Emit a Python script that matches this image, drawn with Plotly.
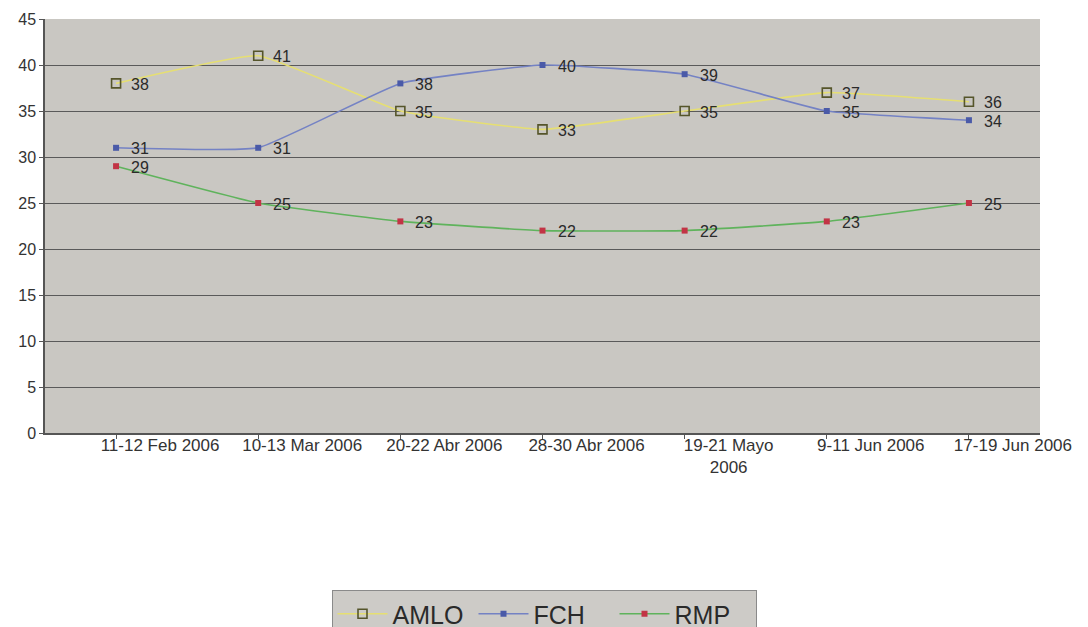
import plotly.graph_objects as go

# Poll dates (x categories)
categories = [
    "11-12 Feb 2006",
    "10-13 Mar 2006",
    "20-22 Abr 2006",
    "28-30 Abr 2006",
    "19-21 Mayo<br>2006",
    "9-11 Jun 2006",
    "17-19 Jun 2006",
]

# Voting intention per candidate (%)
amlo = [38, 41, 35, 33, 35, 37, 36]
fch = [31, 31, 38, 40, 39, 35, 34]
rmp = [29, 25, 23, 22, 22, 23, 25]

y_ticks = [0, 5, 10, 15, 20, 25, 30, 35, 40, 45]

xs = list(range(len(categories)))

series = [
    ("AMLO", amlo, "#e6df72", dict(symbol="square-open", size=9, color="#55552a",
                                   line=dict(width=1.6, color="#55552a"))),
    ("FCH", fch, "#7482c4", dict(symbol="square", size=6, color="#4a5aa8")),
    ("RMP", rmp, "#5fb35c", dict(symbol="square", size=6, color="#c23445")),
]

fig = go.Figure()
for name, vals, lcolor, mk in series:
    fig.add_trace(go.Scatter(
        x=xs, y=vals, name=name, mode="lines+markers",
        line=dict(color=lcolor, width=1.6, shape="spline", smoothing=0.35),
        marker=mk,
    ))
    for xi, v in zip(xs, vals):
        fig.add_annotation(
            x=xi, y=v, text=str(v), showarrow=False,
            xanchor="left", yanchor="middle", xshift=13, yshift=-1,
            font=dict(family="Arial", size=16, color="#2a2a2a"),
        )

fig.update_layout(
    width=1088, height=627,
    margin=dict(l=45, r=48, t=19, b=194, autoexpand=False),
    paper_bgcolor="white",
    plot_bgcolor="#c9c7c2",
    font=dict(family="Arial", size=16, color="#333333"),
    showlegend=True,
    legend=dict(
        orientation="h",
        xref="container", yref="container",
        x=0.5, xanchor="center",
        y=1 - 590 / 627, yanchor="top",
        bgcolor="#cdcbc7",
        bordercolor="#8a8a8a", borderwidth=1,
        font=dict(family="Arial", size=25, color="#2a2a2a"),
        itemwidth=50,
        entrywidth=76,
        tracegroupgap=0,
    ),
)

fig.update_xaxes(
    tickmode="array", tickvals=xs, ticktext=categories,
    range=[-0.5, len(categories) - 0.5],
    showgrid=False, zeroline=False,
    showline=True, linecolor="#555555", linewidth=1.5,
    ticks="outside", tickson="boundaries", ticklen=4, tickcolor="#555555",
    ticklabelshift=44, ticklabelstandoff=-8, automargin=False,
    tickfont=dict(family="Arial", size=17, color="#333333"),
)

fig.update_yaxes(
    range=[0, 45], tickmode="array", tickvals=y_ticks,
    showgrid=True, gridcolor="#5a5a5a", gridwidth=1,
    zeroline=False, automargin=False,
    showline=True, linecolor="#555555", linewidth=1.5,
    ticks="outside", ticklen=4, tickcolor="#555555",
    tickfont=dict(family="Arial", size=16, color="#333333"),
)

fig.write_html("out.html")
